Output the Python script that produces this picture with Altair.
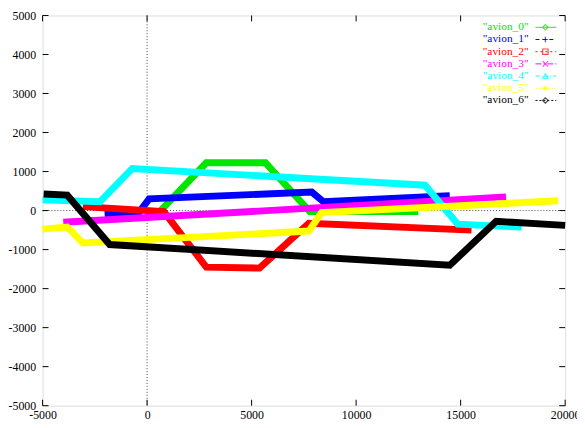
import altair as alt
import pandas as pd

# ---- data ----
names = ['"avion_0"', '"avion_1"', '"avion_2"', '"avion_3"', '"avion_4"', '"avion_5"', '"avion_6"']
colors = ["#00e600", "#0000ff", "#ff0000", "#ff00ff", "#00ffff", "#ffff00", "#000000"]

x0 = [650, 2830, 5660, 7780, 12970]
y0 = [0, 1225, 1225, -25, -25]
x1 = [-2030, -400, 100, 7880, 8440, 14480]
y1 = [-100, -50, 300, 475, 225, 380]
x2 = [-3070, 800, 2830, 5380, 7740, 15520]
y2 = [100, -25, -1450, -1475, -325, -500]
x3 = [-4010, 17170]
y3 = [-300, 350]
x4 = [-5000, -2260, -710, 13300, 14860, 17920]
y4 = [275, 225, 1075, 650, -350, -425]
x5 = [-5000, -3820, -3070, 7740, 8350, 19670]
y5 = [-475, -425, -830, -525, -50, 250]
x6 = [-4950, -3820, -1790, 14480, 16700, 20000]
y6 = [425, 395, -870, -1400, -275, -380]

xticks = [-5000, 0, 5000, 10000, 15000, 20000]
yticks = [-5000, -4000, -3000, -2000, -1000, 0, 1000, 2000, 3000, 4000, 5000]

series = [(x0, y0), (x1, y1), (x2, y2), (x3, y3), (x4, y4), (x5, y5), (x6, y6)]
rows = []
for name, (xs, ys) in zip(names, series):
    for j, (xv, yv) in enumerate(zip(xs, ys)):
        rows.append({"name": name, "x": xv, "y": yv, "order": j})
df = pd.DataFrame(rows)

W, H = 529, 395
FONT = "Liberation Serif, Times New Roman, serif"

xscale = alt.Scale(domain=[-5000, 20000], nice=False, zero=False)
yscale = alt.Scale(domain=[-5000, 5000], nice=False, zero=False)
cscale = alt.Scale(domain=names, range=colors)

xaxis = alt.Axis(values=xticks, title=None, ticks=False, domain=False, grid=False,
                 labelFont=FONT, labelFontSize=12, labelColor="black", labelPadding=4,
                 labelExpr="datum.value + ''", labelOverlap=False, labelFlush=False)
yaxis = alt.Axis(values=yticks, title=None, ticks=False, domain=False, grid=False,
                 labelFont=FONT, labelFontSize=12, labelColor="black", labelPadding=7,
                 labelExpr="datum.value + ''", labelOverlap=False, labelFlush=False)


def X(field="x"):
    return alt.X(f"{field}:Q", scale=xscale, axis=xaxis, title=None)


def Y(field="y"):
    return alt.Y(f"{field}:Q", scale=yscale, axis=yaxis, title=None)


lines = alt.Chart(df).mark_line(strokeWidth=7, strokeJoin="miter").encode(
    x=X(), y=Y(),
    color=alt.Color("name:N", scale=cscale, legend=None),
    order="order:Q",
)

zx = alt.Chart(pd.DataFrame({"x": [0]})).mark_rule(
    color="#444", strokeWidth=1, strokeDash=[1, 2]).encode(x=X())
zy = alt.Chart(pd.DataFrame({"y": [0]})).mark_rule(
    color="#444", strokeWidth=1, strokeDash=[1, 2]).encode(y=Y())

ydf = pd.DataFrame({"y": yticks})
xdf = pd.DataFrame({"x": xticks})
tl = alt.Chart(ydf).mark_rule(color="black").encode(y=Y(), x=alt.value(0), x2=alt.value(6))
tr = alt.Chart(ydf).mark_rule(color="black").encode(y=Y(), x=alt.value(W - 6), x2=alt.value(W))
tb = alt.Chart(xdf).mark_rule(color="black").encode(x=X(), y=alt.value(H - 6), y2=alt.value(H))
tt = alt.Chart(xdf).mark_rule(color="black").encode(x=X(), y=alt.value(0), y2=alt.value(6))

main = alt.layer(zx, zy, tl, tr, tb, tt, lines)

# ---- key (gnuplot style, inside top right) ----
dashes = [[1, 0], [4, 3], [2, 3], [6, 2, 2, 2], [4, 2, 1, 2], [2, 2], [2, 2]]
shapes = ["diamond", "M-1,0L1,0M0,-1L0,1", "square", "M-1,-1L1,1M-1,1L1,-1",
          "triangle-up", "M-1,0L1,0M0,-1L0,1M-0.7,-0.7L0.7,0.7M-0.7,0.7L0.7,-0.7", "diamond"]
kdf = pd.DataFrame({"name": names})
ky = alt.Y("name:N", scale=alt.Scale(type="point", range=[12, 86], padding=0), axis=None)

ktext = alt.Chart(kdf).mark_text(align="right", baseline="middle", font=FONT, fontSize=11.5).encode(
    x=alt.value(492), y=ky, text="name:N",
    color=alt.Color("name:N", scale=cscale, legend=None))
kline = alt.Chart(kdf).mark_rule(strokeWidth=1).encode(
    x=alt.value(499), x2=alt.value(520), y=ky,
    color=alt.Color("name:N", scale=cscale, legend=None),
    strokeDash=alt.StrokeDash("name:N", scale=alt.Scale(domain=names, range=dashes), legend=None))
kpt = alt.Chart(kdf).mark_point(filled=False, size=30, strokeWidth=1.2).encode(
    x=alt.value(509), y=ky,
    color=alt.Color("name:N", scale=cscale, legend=None),
    shape=alt.Shape("name:N", scale=alt.Scale(domain=names, range=shapes), legend=None))
key = alt.layer(kline, kpt, ktext)

chart = alt.layer(main, key).resolve_scale(y="independent").properties(
    width=W, height=H,
    autosize=alt.AutoSizeParams(type="none"),
    padding={"left": 35, "top": 5, "right": 12, "bottom": 17},
).configure_view(stroke="black", strokeWidth=1).configure(background="white")

chart.save("out.html", embed_options={"renderer": "svg", "actions": False})
